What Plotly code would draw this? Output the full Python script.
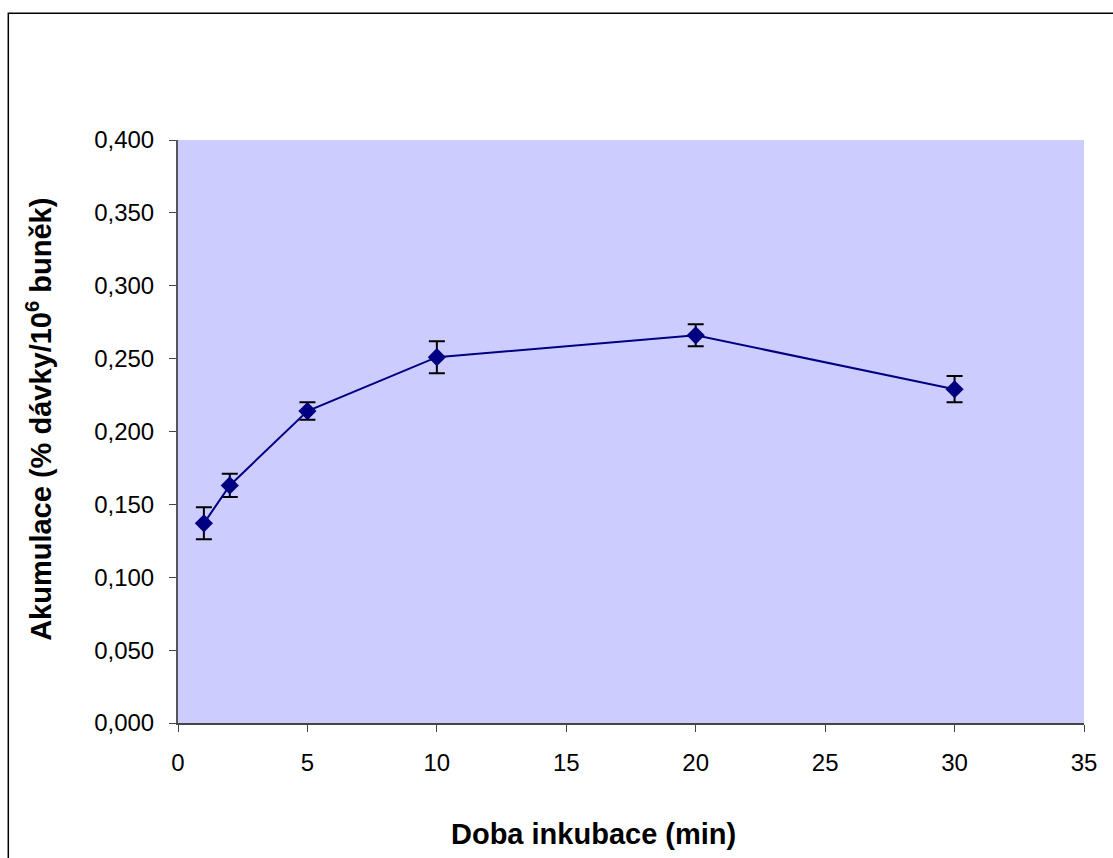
import plotly.graph_objects as go

time_min = [1, 2, 5, 10, 20, 30]
accumulation = [0.137, 0.163, 0.214, 0.251, 0.266, 0.229]
error = [0.011, 0.008, 0.006, 0.011, 0.0075, 0.009]
y_ticks = [0.0, 0.05, 0.1, 0.15, 0.2, 0.25, 0.3, 0.35, 0.4]
x_ticks = [0, 5, 10, 15, 20, 25, 30, 35]

fig = go.Figure()
fig.add_trace(go.Scatter(
    x=time_min, y=accumulation, mode="lines+markers",
    line=dict(color="#000080", width=2),
    marker=dict(symbol="diamond", size=14, color="#000080"),
    error_y=dict(type="data", array=error, visible=True, color="black", thickness=2, width=8),
    showlegend=False,
))

font = "Liberation Sans, Arial, sans-serif"
fig.update_layout(
    width=1113, height=858,
    margin=dict(l=178, r=29, t=140, b=135),
    paper_bgcolor="white", plot_bgcolor="#CCCCFF",
    separators=", ",
    font=dict(family=font, size=24, color="black"),
    xaxis=dict(range=[0, 35], tickvals=x_ticks, showgrid=False, zeroline=False,
               showline=True, linecolor="#444", linewidth=2, ticks="outside", ticklen=7,
               tickcolor="#444", tickwidth=1, ticklabelstandoff=10),
    yaxis=dict(range=[0, 0.4], tickvals=y_ticks, tickformat=".3f", showgrid=False, zeroline=False,
               showline=True, linecolor="#555", linewidth=2, ticks="outside", ticklen=7,
               tickcolor="#444", tickwidth=1, ticklabelstandoff=10),
    annotations=[
        dict(text="<b>Doba inkubace (min)</b>", xref="paper", yref="paper", x=0.459, y=-0.191,
             xanchor="center", yanchor="middle", showarrow=False, font=dict(size=29)),
        dict(text="<b>Akumulace (% dávky/10<sup>6</sup> buněk)</b>", xref="paper", yref="paper",
             x=-0.1534, y=0.52, xanchor="center", yanchor="middle", textangle=-90,
             showarrow=False, font=dict(size=29)),
    ],
    shapes=[dict(type="rect", xref="paper", yref="paper", x0=-0.1873, x1=1.2, y0=-0.5, y1=1.2175,
                 line=dict(color="black", width=1.5), fillcolor="rgba(0,0,0,0)", layer="below")],
)

fig.write_html("out.html")
